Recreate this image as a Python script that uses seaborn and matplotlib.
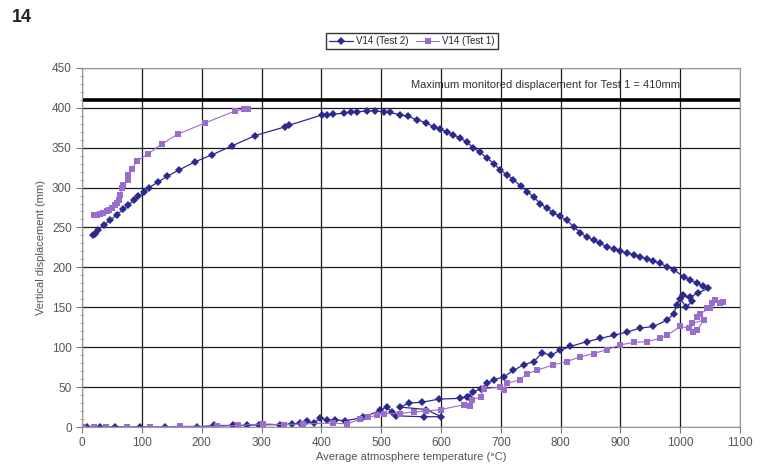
import numpy as np
import pandas as pd
import matplotlib.pyplot as plt
import seaborn as sns
from matplotlib.ticker import MultipleLocator

# V14 (Test 2): heating branch then cooling branch
t2_temp = [8, 30, 55, 97, 139, 192, 220, 253, 275, 295, 331, 351, 365, 376, 387, 398, 410, 423,
           440, 470, 498, 509, 518, 525, 571, 600, 575, 532, 546, 568, 596, 632, 643, 646, 654,
           666, 677, 688, 705, 721, 738, 755, 769, 783, 799, 816, 844, 866, 889, 911, 933, 955,
           978, 989, 994, 1000, 1010, 1020, 1005, 1017, 1030, 1047,
           1038, 1028, 1017, 1006, 989, 978, 966, 955, 944, 933, 922, 911, 900, 889, 877, 866,
           855, 844, 833, 822, 810, 799, 788, 777, 766, 755, 744, 733, 721, 710, 699, 688, 677,
           665, 654, 643, 632, 620, 610, 598, 588, 575, 560, 545, 532, 515, 504, 490, 476, 460,
           450, 437, 420, 410, 401, 346, 339, 289, 250, 217, 188, 162,
           142, 127, 112, 104, 94, 86, 77, 69, 58, 47, 36, 27, 21, 18]
t2_disp = [0, 0, 0, 0, 0, 0, 2, 2, 2, 3, 3, 4, 5, 7, 5, 11, 9, 9,
           8, 12, 21, 25, 19, 14, 13, 13, 22, 25, 30, 31, 35, 36, 38, 38, 44,
           48, 55, 59, 63, 71, 78, 82, 93, 90, 96, 101, 107, 111, 115, 119, 124, 126,
           134, 142, 153, 161, 150, 158, 165, 163, 168, 174,
           177, 180, 184, 188, 197, 201, 205, 208, 211, 213, 216, 218, 220, 223, 226, 230,
           234, 238, 243, 251, 259, 264, 268, 274, 280, 288, 295, 302, 310, 316, 322, 330, 337,
           344, 350, 357, 362, 366, 370, 373, 376, 381, 385, 389, 391, 394, 395, 396, 396, 395,
           394, 393, 392, 391, 391, 378, 376, 365, 352, 341, 332, 322,
           314, 307, 300, 294, 289, 284, 278, 273, 266, 259, 253, 247, 242, 241]

# V14 (Test 1): heating branch
t1_heat_temp = [2, 20, 40, 75, 114, 164, 226, 260, 303, 337, 370, 420, 443, 465, 478, 493, 504,
                532, 554, 575, 600, 638, 649, 652, 666, 671, 699, 705, 710, 732, 744, 760, 788,
                810, 833, 855, 877, 900, 922, 944, 966, 978, 1000, 1014, 1022, 1028, 1039, 1020,
                1028, 1033, 1050, 1044, 1053, 1058, 1067, 1072]
t1_heat_disp = [0, 0, 0, 0, 0, 1, 1, 2, 4, 3, 4, 5, 4, 10, 12, 15, 17,
                17, 19, 20, 22, 28, 26, 34, 38, 48, 50, 47, 55, 59, 67, 71, 78,
                82, 88, 92, 97, 103, 106, 107, 111, 115, 126, 124, 119, 121, 134, 130,
                138, 142, 149, 149, 155, 159, 155, 157]
# V14 (Test 1): cooling branch (monitoring stopped above 410 mm)
t1_cool_temp = [278, 270, 256, 206, 160, 134, 110, 91, 83, 77, 77, 69, 66, 64, 61, 58, 55, 50,
                45, 41, 35, 30, 25, 19]
t1_cool_disp = [399, 398, 396, 381, 367, 355, 342, 333, 323, 316, 310, 303, 299, 291, 284, 281,
                278, 274, 272, 270, 268, 267, 266, 266]

max_disp = 410

c2 = '#2c2a8e'
c1 = '#9a6ccc'

sns.set_style("white")
plt.rcParams['font.family'] = ['Liberation Sans', 'DejaVu Sans']

fig = plt.figure(figsize=(7.75, 4.74), dpi=100)
ax = fig.add_axes([0.106, 0.099, 0.849, 0.758])

sns.lineplot(x=t2_temp, y=t2_disp, sort=False, estimator=None, color=c2, lw=0.9,
             marker='D', markersize=3.8, markeredgewidth=0, label='V14 (Test 2)', ax=ax)
sns.lineplot(x=t1_heat_temp, y=t1_heat_disp, sort=False, estimator=None, color=c1, lw=0.8,
             marker='s', markersize=4.3, markeredgewidth=0, label='V14 (Test 1)', ax=ax)
sns.lineplot(x=t1_cool_temp, y=t1_cool_disp, sort=False, estimator=None, color=c1, lw=0.8,
             marker='s', markersize=4.3, markeredgewidth=0, legend=False, ax=ax)

ax.axhline(max_disp, color='black', lw=2.6, zorder=1)
ax.text(775, 428, 'Maximum monitored displacement for Test 1 = 410mm', ha='center', va='center',
        fontsize=8, color='#333333')

ax.set_xlim(0, 1100)
ax.set_ylim(0, 450)
ax.xaxis.set_major_locator(MultipleLocator(100))
ax.yaxis.set_major_locator(MultipleLocator(50))
ax.yaxis.set_minor_locator(MultipleLocator(10))
ax.grid(True, which='major', color='#1a1a1a', lw=0.9)
ax.set_axisbelow(True)
for s in ax.spines.values():
    s.set_color('#999999')
    s.set_linewidth(0.8)
ax.tick_params(axis='both', which='major', direction='out', length=4, color='#777777',
               labelsize=8.5, labelcolor='#555555', left=True, bottom=True)
ax.tick_params(axis='y', which='minor', direction='inout', length=3, color='#999999', left=True)
ax.set_xlabel('Average atmosphere temperature (°C)', fontsize=8, color='#555555', labelpad=2)
ax.set_ylabel('Vertical displacement (mm)', fontsize=8, color='#555555', labelpad=4)

leg = ax.legend(loc='center', bbox_to_anchor=(412 / 775, 1 - 41 / 474),
                bbox_transform=fig.transFigure, ncol=2, fontsize=7, frameon=True,
                fancybox=False, handlelength=2.4, handletextpad=0.3, columnspacing=0.8,
                borderpad=0.3)
leg.get_frame().set_edgecolor('black')
leg.get_frame().set_linewidth(1.0)

fig.text(12 / 775, 1 - 18 / 474, '14', fontsize=13, fontweight='bold', ha='left', va='center',
         color='#222222')

fig.savefig('out.png', dpi=100)
